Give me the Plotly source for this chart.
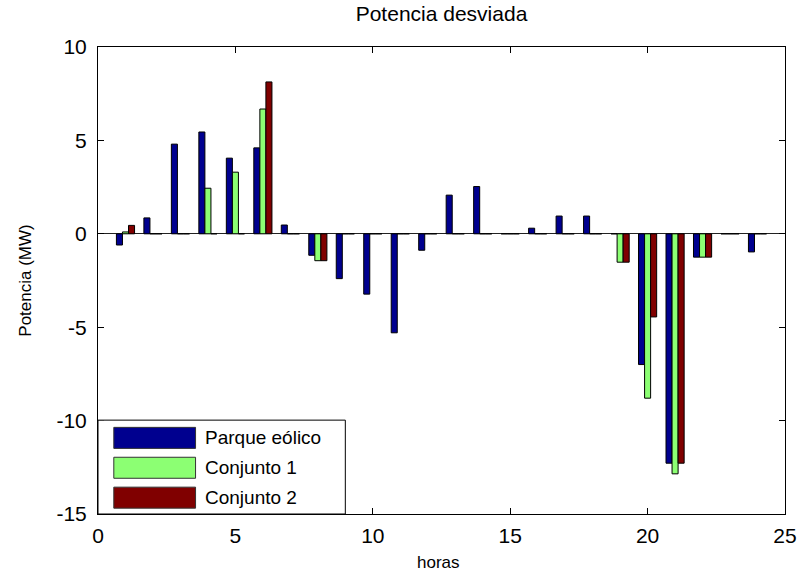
import plotly.graph_objects as go

# Hourly deviated power (MW) for the wind farm and the two combined sets
horas = list(range(1, 25))
parque_eolico = [-0.60, 0.85, 4.80, 5.45, 4.05, 4.60, 0.47, -1.15, -2.40, -3.23, -5.30, -0.88,
                 2.07, 2.53, 0.00, 0.30, 0.95, 0.95, 0.00, -7.00, -12.28, -1.25, 0.00, -0.97]
conjunto_1 = [0.10, 0.00, 0.00, 2.44, 3.30, 6.68, 0.00, -1.44, 0.00, 0.00, 0.00, 0.00,
              0.00, 0.00, 0.00, 0.00, 0.00, 0.00, -1.52, -8.80, -12.85, -1.25, 0.00, 0.00]
conjunto_2 = [0.45, 0.00, 0.00, 0.00, 0.00, 8.13, 0.00, -1.44, 0.00, 0.00, 0.00, 0.00,
              0.00, 0.00, 0.00, 0.00, 0.00, 0.00, -1.52, -4.45, -12.28, -1.25, 0.00, 0.00]

series_names = ["Parque eólico", "Conjunto 1", "Conjunto 2"]
series_values = [parque_eolico, conjunto_1, conjunto_2]
series_colors = ["#00008f", "#8cff73", "#800000"]

x_ticks = [0, 5, 10, 15, 20, 25]
y_ticks = [-15, -10, -5, 0, 5, 10]
x_tick_labels = ["0", "5", "10", "15", "20", "25"]
y_tick_labels = ["-15", "-10", "-5", "0", "5", "10"]

FONT = "Liberation Sans, Arial, Helvetica, sans-serif"

fig = go.Figure()
for name, vals, col in zip(series_names, series_values, series_colors):
    fig.add_trace(go.Bar(
        x=horas, y=vals, name=name,
        marker=dict(color=col, line=dict(color="black", width=1)),
        showlegend=False,
    ))

axis_common = dict(
    showline=True, linecolor="black", linewidth=1, mirror="ticks",
    ticks="inside", ticklen=6, tickcolor="black", tickwidth=1,
    showgrid=False,
    tickfont=dict(family=FONT, size=21, color="black"),
)

fig.update_layout(
    width=809, height=576,
    margin=dict(l=98, r=14, t=47, b=62),
    paper_bgcolor="white", plot_bgcolor="white",
    barmode="group", bargap=0.34, bargroupgap=0,
    font=dict(family=FONT, color="black"),
    title=dict(text="Potencia desviada", x=0.5, xref="paper", xanchor="center",
               y=1 - 14 / 576, yref="container", yanchor="middle",
               font=dict(family=FONT, size=21, color="black")),
    xaxis=dict(range=[0, 25], tickvals=x_ticks, ticktext=x_tick_labels,
               ticklabelstandoff=3, **axis_common),
    yaxis=dict(range=[-15, 10], tickvals=y_ticks, ticktext=y_tick_labels,
               ticklabelstandoff=6,
               zeroline=True, zerolinecolor="#222222", zerolinewidth=1, **axis_common),
)

# Axis titles
fig.add_annotation(text="horas", xref="paper", yref="paper", x=0.495, y=-0.103,
                   showarrow=False, xanchor="center", yanchor="middle",
                   font=dict(family=FONT, size=17, color="black"))
fig.add_annotation(text="Potencia (MW)", xref="paper", yref="paper", x=-0.106, y=0.5,
                   showarrow=False, textangle=-90, xanchor="center", yanchor="middle",
                   font=dict(family=FONT, size=17, color="black"))

# Boxed legend in the lower-left corner of the axes
fig.add_shape(type="rect", xref="paper", yref="paper", x0=0, x1=0.360, y0=0, y1=0.201,
              line=dict(color="black", width=1), fillcolor="white", layer="above")
row_centers = [0.163, 0.099, 0.035]
for name, col, yc in zip(series_names, series_colors, row_centers):
    fig.add_shape(type="rect", xref="paper", yref="paper", x0=0.023, x1=0.142,
                  y0=yc - 0.0225, y1=yc + 0.0225,
                  line=dict(color="#333333", width=1), fillcolor=col, layer="above")
    fig.add_annotation(text=name, xref="paper", yref="paper", x=0.153, y=yc,
                       showarrow=False, xanchor="left", yanchor="middle",
                       font=dict(family=FONT, size=19, color="black"))

fig.write_html("out.html")
